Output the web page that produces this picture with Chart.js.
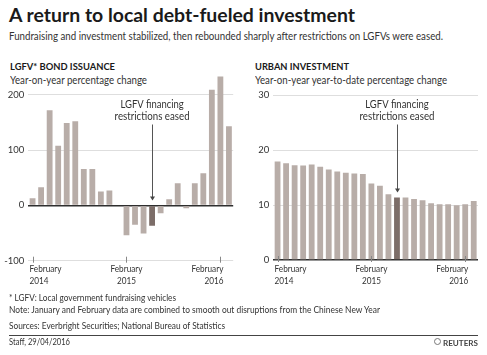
<!DOCTYPE html>
<html>
<head>
<meta charset="utf-8">
<script src="https://cdn.jsdelivr.net/npm/chart.js@4.4.1/dist/chart.umd.min.js"></script>
<style>
  html, body { margin: 0; padding: 0; background: #fff; }
  body { width: 487px; height: 355px; position: relative; overflow: hidden; font-family: Lato, "Open Sans", sans-serif; color: #333; }
  .t { position: absolute; white-space: nowrap; line-height: 1; display: inline-block; transform-origin: 0 0; }
  canvas { position: absolute; }
  #rule { position: absolute; left: 9px; top: 335px; width: 469px; height: 1px; background: #444; }
  #logo { position: absolute; left: 434px; top: 338px; width: 7px; height: 7px; border-radius: 50%; border: 1.5px solid #777; box-sizing: border-box; }
</style>
</head>
<body>
<div class="t" data-w="346" style="left:9px;top:5px;font-size:19px;font-weight:700;color:#1a1a1a;">A return to local debt-fueled investment</div>
<div class="t" data-w="434" style="left:9px;top:30px;font-size:11px;">Fundraising and investment stabilized, then rebounded sharply after restrictions on LGFVs were eased.</div>

<div class="t" data-w="105" style="left:10px;top:62px;font-size:9.5px;font-weight:700;color:#1a1a1a;">LGFV* BOND ISSUANCE</div>
<div class="t" data-w="137" style="left:10px;top:73.5px;font-size:11px;">Year-on-year percentage change</div>
<div class="t" data-w="94" style="left:255px;top:62px;font-size:9.5px;font-weight:700;color:#1a1a1a;">URBAN INVESTMENT</div>
<div class="t" data-w="192" style="left:255px;top:73.5px;font-size:11px;">Year-on-year year-to-date percentage change</div>

<canvas id="c1" width="243" height="240" style="left:0px;top:60px;width:243px;height:240px;"></canvas>
<canvas id="c2" width="242" height="240" style="left:245px;top:60px;width:242px;height:240px;"></canvas>

<div class="t" data-w="167" style="left:9px;top:293px;font-size:9.5px;">* LGFV: Local government fundraising vehicles</div>
<div class="t" data-w="371" style="left:9px;top:305px;font-size:9.5px;">Note: January and February data are combined to smooth out disruptions from the Chinese New Year</div>
<div class="t" data-w="216" style="left:9px;top:321px;font-size:9.5px;">Sources: Everbright Securities; National Bureau of Statistics</div>
<div id="rule"></div>
<div class="t" data-w="61" style="left:9px;top:336.5px;font-size:9.5px;">Staff, 29/04/2016</div>
<div id="logo"></div>
<div class="t" data-w="35" style="left:443px;top:338.5px;font-size:8px;font-weight:700;color:#444;">REUTERS</div>

<script>
// ---- data ----
const categories = ['Feb 2014','Mar 2014','Apr 2014','May 2014','Jun 2014','Jul 2014','Aug 2014','Sep 2014','Oct 2014','Nov 2014','Dec 2014',
  'Feb 2015','Mar 2015','Apr 2015','May 2015','Jun 2015','Jul 2015','Aug 2015','Sep 2015','Oct 2015','Nov 2015','Dec 2015',
  'Feb 2016','Mar 2016'];
const bondIssuance = [13, 33, 172, 108, 149, 152, 66, 66, 25, 27, null,
  -54, -35, -51, -37, -14, 11, 40, -5, 40, 58, 209,
  233, 143];
const urbanInvestment = [17.9, 17.6, 17.25, 17.2, 17.35, 16.95, 16.45, 16.1, 15.85, 15.75, 15.65,
  13.9, 13.5, 11.95, 11.35, 11.35, 11.1, 10.85, 10.3, 10.15, 10.15, 9.95,
  10.15, 10.75];
const bondTicks = [-100, 0, 100, 200];
const urbanTicks = [0, 10, 20, 30];
const xTickIndices = [0, 11, 22];
const xTickLines = [['February', '2014'], ['February', '2015'], ['February', '2016']];
const annotationLines = ['LGFV financing', 'restrictions eased'];
const highlightIndex = 14;

// ---- fit HTML text widths ----
document.querySelectorAll('[data-w]').forEach(el => {
  const w = el.getBoundingClientRect().width;
  const target = parseFloat(el.dataset.w);
  if (w > 0) el.style.transform = 'scaleX(' + (target / w) + ')';
});

const FONT = 'Lato, "Open Sans", sans-serif';
const BAR = '#b8ada8';
const BAR_DARK = '#7c6d68';

function fitText(ctx, text, x, y, w, align) {
  const m = ctx.measureText(text).width;
  const sx = w / m;
  ctx.save();
  ctx.translate(x, y);
  ctx.scale(sx, 1);
  ctx.textAlign = align;
  ctx.fillText(text, 0, 0);
  ctx.restore();
}

const decorPlugin = {
  id: 'decor',
  afterDraw(chart, args, opts) {
    const ctx = chart.ctx;
    const xs = chart.scales.x, ys = chart.scales.y;
    const area = chart.chartArea;
    ctx.save();
    // tick marks at February positions
    ctx.strokeStyle = '#888';
    ctx.lineWidth = 1;
    xTickIndices.forEach(i => {
      const x = Math.round(xs.getPixelForValue(i)) + 0.5;
      ctx.beginPath();
      ctx.moveTo(x, area.bottom - 4);
      ctx.lineTo(x, area.bottom + 2);
      ctx.stroke();
    });
    // x tick labels
    ctx.fillStyle = '#333';
    ctx.font = '9.5px ' + FONT;
    ctx.textBaseline = 'alphabetic';
    const fw = ctx.measureText('February').width;
    const sx = 32 / fw;
    xTickIndices.forEach((idx, k) => {
      const x = xs.getPixelForValue(idx);
      const align = k === 0 ? 'left' : (k === xTickIndices.length - 1 ? 'right' : 'center');
      const ox = k === 0 ? x - 3 : (k === xTickIndices.length - 1 ? x + 3 : x);
      xTickLines[k].forEach((line, j) => {
        ctx.save();
        ctx.translate(ox, 212 + j * 12.3);
        ctx.scale(sx, 1);
        ctx.textAlign = align;
        ctx.fillText(line, 0, 0);
        ctx.restore();
      });
    });
    // annotation
    const ax = xs.getPixelForValue(highlightIndex);
    ctx.font = '10.5px ' + FONT;
    ctx.fillStyle = '#333';
    fitText(ctx, annotationLines[0], ax, 47.7, 63.3, 'center');
    fitText(ctx, annotationLines[1], ax, 59.5, 75, 'center');
    const v = chart.data.datasets[0].data[highlightIndex];
    const tipY = ys.getPixelForValue(Math.max(v, 0)) - 5;
    const lx = Math.round(ax) + 0.5;
    ctx.strokeStyle = '#555';
    ctx.beginPath();
    ctx.moveTo(lx, 64.5);
    ctx.lineTo(lx, tipY - 2);
    ctx.stroke();
    ctx.fillStyle = '#444';
    ctx.beginPath();
    ctx.moveTo(lx - 2.5, tipY - 4);
    ctx.lineTo(lx + 2.5, tipY - 4);
    ctx.lineTo(lx, tipY);
    ctx.closePath();
    ctx.fill();
    ctx.restore();
  }
};

function makeChart(id, values, ticks, min, max, padTop, padRight, xHeight) {
  return new Chart(document.getElementById(id), {
    type: 'bar',
    data: {
      labels: categories,
      datasets: [{
        data: values,
        backgroundColor: c => c.dataIndex === highlightIndex ? BAR_DARK : BAR,
        borderWidth: 0,
        categoryPercentage: 1,
        barPercentage: 0.68
      }]
    },
    options: {
      responsive: false,
      animation: false,
      events: [],
      layout: { padding: { top: padTop, right: padRight, left: 0, bottom: 0 } },
      plugins: { legend: { display: false }, tooltip: { enabled: false } },
      scales: {
        x: {
          offset: true,
          grid: { display: false },
          border: { display: false },
          ticks: { display: false },
          afterFit: s => { s.height = xHeight; }
        },
        y: {
          min: min,
          max: max,
          afterBuildTicks: s => { s.ticks = ticks.map(v => ({ value: v })); },
          afterFit: s => { s.width = 28.3; },
          border: { display: false },
          grid: {
            drawTicks: false,
            color: c => c.tick && c.tick.value === 0 ? '#2e2e2e' : '#dedede',
            lineWidth: c => c.tick && c.tick.value === 0 ? 1.5 : 1
          },
          ticks: {
            padding: 4,
            color: '#333',
            font: { family: FONT, size: 9.5 },
            callback: v => String(v)
          }
        }
      }
    },
    plugins: [decorPlugin]
  });
}

makeChart('c1', bondIssuance, bondTicks, -100, 240, 12.7, 9.8, 39.3);
makeChart('c2', urbanInvestment, urbanTicks, 0, 30, 35, 9, 40);
</script>
</body>
</html>
